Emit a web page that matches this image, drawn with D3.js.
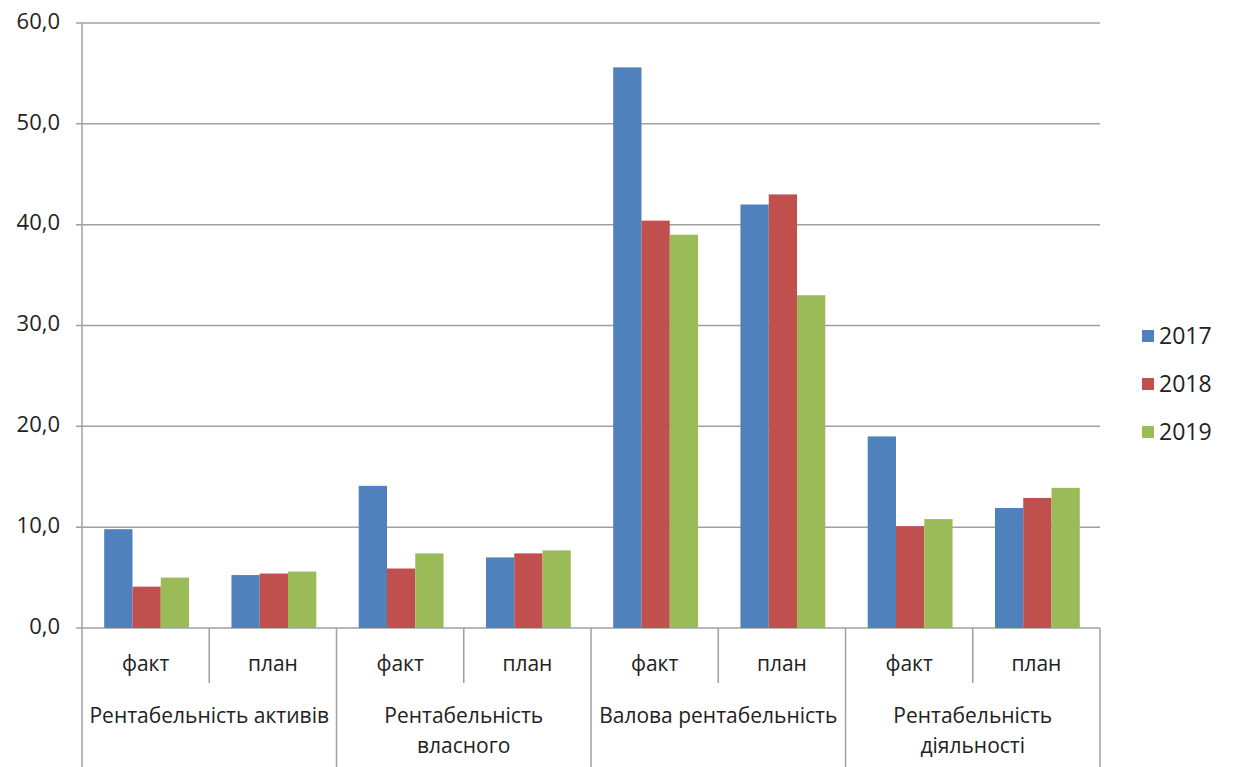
<!DOCTYPE html>
<html>
<head>
<meta charset="utf-8">
<script src="https://cdn.jsdelivr.net/npm/d3@7"></script>
<style>
  html, body { margin: 0; padding: 0; background: #fff; }
  svg text { font-family: "Open Sans", "Noto Sans", sans-serif; fill: #222; }
</style>
</head>
<body>
<svg id="chart" width="1237" height="767"></svg>
<script>
// Indicator groups, each split into actual ("факт") and planned ("план")
const groups = [
  ["Рентабельність активів"],
  ["Рентабельність", "власного"],
  ["Валова рентабельність"],
  ["Рентабельність", "діяльності"]
];
const subLabels = ["факт", "план"];
const years = ["2017", "2018", "2019"];
const colors = ["#4F81BD", "#C0504D", "#9BBB59"];

// Values per year, in order: group1 факт, group1 план, group2 факт, ...
const values2017 = [9.8, 5.25, 14.1, 7.0, 55.6, 42.0, 19.0, 11.9];
const values2018 = [4.1, 5.4, 5.9, 7.4, 40.4, 43.0, 10.1, 12.9];
const values2019 = [5.0, 5.6, 7.4, 7.7, 39.0, 33.0, 10.8, 13.9];
const seriesValues = [values2017, values2018, values2019];

const yTicks = [0, 10, 20, 30, 40, 50, 60];

const svg = d3.select("#chart");
const plotLeft = 82, plotRight = 1100, plotTop = 23, plotBottom = 628;

const cats = d3.range(groups.length * subLabels.length);
const x = d3.scaleBand().domain(cats).range([plotLeft, plotRight]).paddingInner(0).paddingOuter(0);
const y = d3.scaleLinear().domain([0, 60]).range([plotBottom, plotTop]);

// Bar slots inside each category: 3 bars, gap of 150% of one bar width
const barW = x.bandwidth() / (3 + 1.5);
const xs = d3.scaleBand().domain(d3.range(3)).range([barW * 0.75 + 1, barW * 3.75 + 1]);

// Horizontal gridlines
svg.append("g")
  .selectAll("line")
  .data(yTicks)
  .join("line")
  .attr("x1", plotLeft - 6).attr("x2", plotRight)
  .attr("y1", d => y(d)).attr("y2", d => y(d))
  .attr("stroke", "#a0a0a0").attr("stroke-width", 1.5);

// Y axis labels
const fmt = d => d3.format(".1f")(d).replace(".", ",");
svg.append("g")
  .selectAll("text")
  .data(yTicks)
  .join("text")
  .attr("x", 60).attr("y", d => y(d) - 2)
  .attr("dy", "0.35em")
  .attr("text-anchor", "end")
  .style("font-size", "22px")
  .text(fmt);

// Y axis line
svg.append("line")
  .attr("x1", plotLeft).attr("x2", plotLeft).attr("y1", plotTop).attr("y2", plotBottom)
  .attr("stroke", "#a0a0a0").attr("stroke-width", 1.5);

// Bars
seriesValues.forEach((vals, si) => {
  svg.append("g")
    .selectAll("rect")
    .data(vals)
    .join("rect")
    .attr("x", (d, i) => x(i) + xs(si))
    .attr("width", xs.bandwidth())
    .attr("y", d => y(d))
    .attr("height", d => y(0) - y(d))
    .attr("fill", colors[si]);
});

// Category axis: dividers between sub-categories and groups
const dividerG = svg.append("g");
d3.range(cats.length + 1).forEach(i => {
  const xx = i < cats.length ? x(i) : plotRight;
  const major = i % 2 === 0;
  dividerG.append("line")
    .attr("x1", xx).attr("x2", xx)
    .attr("y1", plotBottom).attr("y2", major ? 767 : 683)
    .attr("stroke", "#a0a0a0").attr("stroke-width", 1.5);
});

// Sub-category labels
svg.append("g")
  .selectAll("text")
  .data(cats)
  .join("text")
  .attr("x", d => x(d) + x.bandwidth() / 2)
  .attr("y", 664)
  .attr("dy", "0.35em")
  .attr("text-anchor", "middle")
  .style("font-size", "21px")
  .text(d => subLabels[d % 2]);

// Group labels (possibly two lines)
groups.forEach((lines, gi) => {
  const cx = x(gi * 2) + x.bandwidth();
  const t = svg.append("text")
    .attr("text-anchor", "middle")
    .style("font-size", "21px");
  lines.forEach((ln, li) => {
    t.append("tspan")
      .attr("x", cx)
      .attr("y", 716 + li * 30)
      .attr("dy", "0.35em")
      .text(ln);
  });
});

// Legend
const legend = svg.append("g");
years.forEach((yr, i) => {
  const ly = 336 + i * 48;
  legend.append("rect")
    .attr("x", 1142).attr("y", ly - 6)
    .attr("width", 12).attr("height", 12)
    .attr("fill", colors[i]);
  legend.append("text")
    .attr("x", 1159).attr("y", ly)
    .attr("dy", "0.35em")
    .style("font-size", "23px")
    .text(yr);
});
</script>
</body>
</html>
